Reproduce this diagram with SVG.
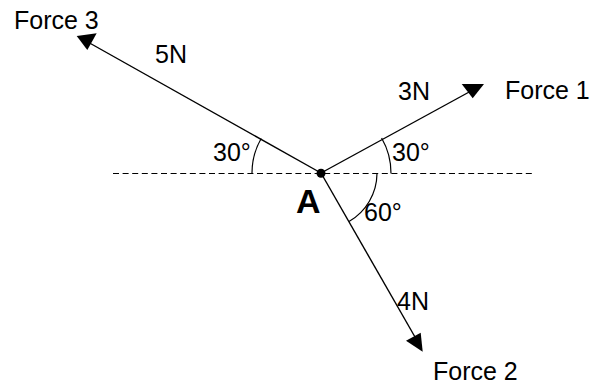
<svg xmlns="http://www.w3.org/2000/svg" width="595" height="387" viewBox="0 0 595 387">
<style>
.t{font-family:"Liberation Sans",Arial,sans-serif;font-size:25px;fill:#000}
.b{font-family:"Liberation Sans",Arial,sans-serif;font-size:34px;font-weight:bold;fill:#000}
.ln{stroke:#000;stroke-width:1.4;fill:none}
.arc{stroke:#000;stroke-width:1.2;fill:none}
.dash{stroke:#000;stroke-width:1.2;stroke-dasharray:6 3.6;fill:none}
.hd{fill:#000}
</style>
<rect width="595" height="387" fill="#fff"/>
<g id="connectors">
<line class="dash" x1="113" y1="173.5" x2="532" y2="173.5"/>
<line class="ln" x1="321" y1="173" x2="471" y2="91"/>
<line class="ln" x1="321" y1="173" x2="86" y2="41"/>
<line class="ln" x1="321" y1="173" x2="415" y2="337"/>
<polygon class="hd" points="461.7,84 484,84 472.7,98.3"/>
<polygon class="hd" points="76.7,36 96.7,33.3 87.3,50"/>
<polygon class="hd" points="406,340.7 420.7,332.7 422.7,351.7"/>
<path class="arc" d="M252 173.5 A69 69 0 0 1 261.2 138.5"/>
<path class="arc" d="M391 173.5 A70 70 0 0 0 381.6 138"/>
<path class="arc" d="M377 173.5 A56 56 0 0 1 349 221.5"/>
</g>
<g id="A">
<circle cx="321" cy="173.3" r="4.5" fill="#000"/>
<text class="b" x="296" y="213">A</text>
</g>
<g id="force1"><text class="t" x="505" y="99">Force 1</text><text class="t" x="398" y="100">3N</text></g>
<g id="force2"><text class="t" x="433" y="380">Force 2</text><text class="t" x="397" y="310">4N</text></g>
<g id="force3"><text class="t" x="14" y="29">Force 3</text><text class="t" x="155" y="63">5N</text></g>
<g id="angles">
<text class="t" x="213" y="161">30°</text>
<text class="t" x="392" y="161">30°</text>
<text class="t" x="364" y="221">60°</text>
</g>
</svg>
